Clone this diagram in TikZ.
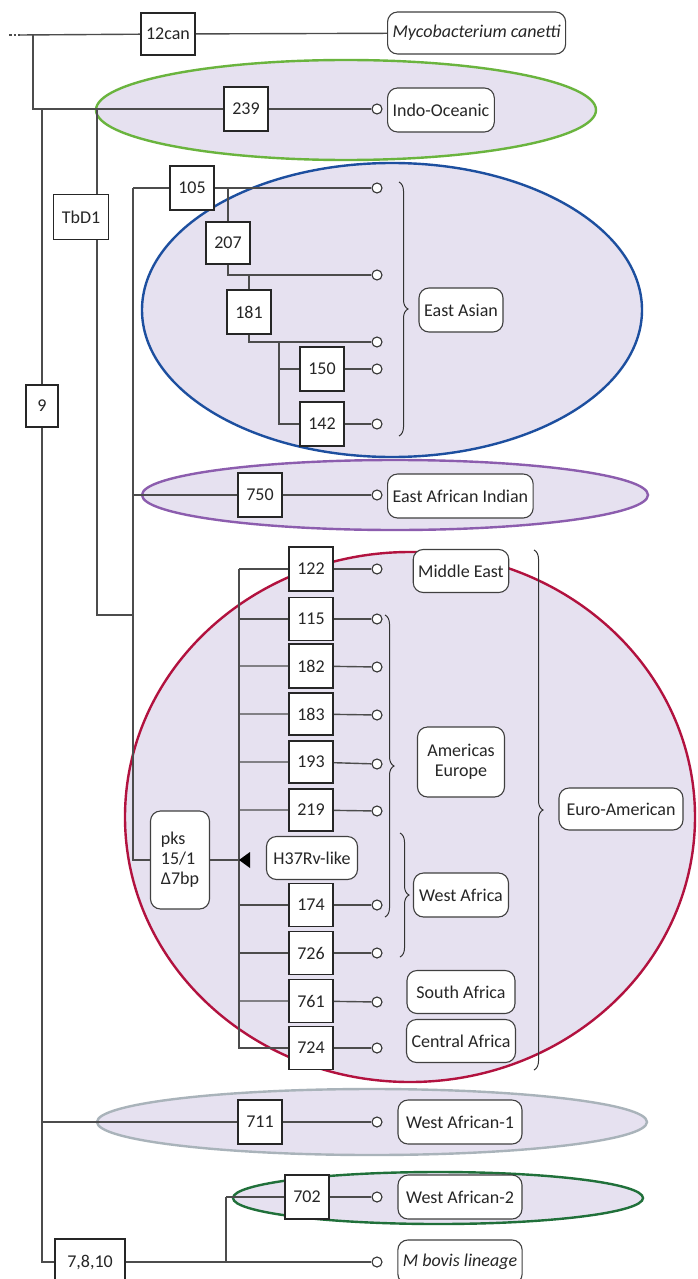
\documentclass[tikz,border=0pt]{standalone}
\usepackage{fontspec}
\setmainfont{Carlito}
\usetikzlibrary{decorations.pathreplacing}
\definecolor{lav}{HTML}{E6E1F0}
\definecolor{cOcean}{HTML}{6AB43E}
\definecolor{cAsia}{HTML}{1D4F9F}
\definecolor{cIndia}{HTML}{8C5DAE}
\definecolor{cEuro}{HTML}{B2123F}
\definecolor{cWAone}{HTML}{A9B3BA}
\definecolor{cWAtwo}{HTML}{20703A}

\tikzset{
  mut/.style={draw=black!85, fill=white, line width=1.7pt, minimum width=44pt, minimum height=44pt, inner sep=2pt},
  lin/.style={draw=black!75, fill=white, line width=1.1pt, rounded corners=10pt, minimum height=44pt, inner xsep=5pt, align=center},
  tipc/.style={circle, draw=black!80, fill=white, line width=1.1pt, inner sep=0pt, minimum size=10pt},
  grp/.style={fill=lav, line width=2.4pt},
  brc/.style={decorate, decoration={brace, amplitude=9pt}, line width=1pt, draw=black!80},
  branch/.style={line width=1.4pt, draw=black!70}
}

\begin{document}
\begin{tikzpicture}[x=1pt, y=-1pt, font=\fontsize{18}{20}\selectfont, text=black!85]
  \useasboundingbox[fill=white] (0,0) rectangle (697,1279);

  \draw[grp, draw=cOcean] (346,110) ellipse [x radius=250pt, y radius=50pt];
  \draw[grp, draw=cAsia] (392,310) ellipse [x radius=250pt, y radius=147pt];
  \draw[grp, draw=cIndia] (395,495) ellipse [x radius=253pt, y radius=35pt];
  \draw[grp, draw=cEuro] (410,817) ellipse [x radius=285pt, y radius=265pt];
  \draw[grp, draw=cWAone] (372,1122) ellipse [x radius=275pt, y radius=33pt];
  \draw[grp, draw=cWAtwo] (438,1198) ellipse [x radius=205pt, y radius=26pt];

  \coordinate (root) at (20,35);
  \coordinate (ja) at (33,35);
  \coordinate (jm) at (42,109);
  \coordinate (jt) at (97,109);
  \coordinate (ja5) at (133,188);
  \coordinate (jl) at (133,615);
  \coordinate (j207) at (228,188);
  \coordinate (j181) at (249,275);
  \coordinate (j150) at (279,342);
  \coordinate (je) at (239,569);
  \coordinate (j702) at (226,1197);

  \node[mut, minimum width=54pt, minimum height=42pt] (can) at (168,34) {12can};
  \node[mut] (b239) at (246,109) {239};
  \node[mut, minimum width=55pt, minimum height=45pt] (tbd1) at (81,217) {TbD1};
  \node[mut, minimum width=32pt, minimum height=42pt] (n9) at (42,406) {9};
  \node[mut] (b105) at (192,188) {105};
  \node[mut, minimum height=42pt] (b207) at (228,243) {207};
  \node[mut] (b181) at (249,312) {181};
  \node[mut] (b150) at (322,369) {150};
  \node[mut] (b142) at (322,424) {142};
  \node[mut] (b750) at (260,495) {750};
  \node[mut] (b122) at (311,569) {122};
  \node[mut, minimum height=43pt] (b115) at (311,619) {115};
  \node[mut] (b182) at (311,666) {182};
  \node[mut, minimum height=42pt] (b183) at (311,714) {183};
  \node[mut, minimum height=42pt] (b193) at (311,762) {193};
  \node[mut, minimum height=42pt] (b219) at (311,810) {219};
  \node[mut, minimum height=43pt] (b174) at (311,905) {174};
  \node[mut, minimum height=43pt] (b726) at (311,953) {726};
  \node[mut, minimum height=43pt] (b761) at (311,1001) {761};
  \node[mut, minimum height=43pt] (b724) at (311,1048) {724};
  \node[mut] (b711) at (260,1122) {711};
  \node[mut] (b702) at (307,1197) {702};
  \node[mut, minimum width=70pt, minimum height=46pt] (b7810) at (90,1262) {7,8,10};

  \node[lin, anchor=west, minimum width=168pt, minimum height=42pt] (canetti) at (387,33) {\itshape Mycobacterium canetti};
  \node[lin, anchor=west, minimum width=101pt] (indo) at (387,110) {Indo-Oceanic};
  \node[lin, minimum width=84pt] (asia) at (461,310) {East Asian};
  \node[lin, anchor=west, minimum width=145pt] (india) at (387,496) {East African Indian};
  \node[lin, minimum width=95pt, minimum height=43pt] (mideast) at (461,571) {Middle East};
  \node[lin, minimum width=87pt, minimum height=70pt] (ameu) at (461,762) {Americas\\Europe};
  \node[lin, minimum width=91pt, minimum height=43pt] (h37) at (312,858) {H37Rv-like};
  \node[lin, minimum width=59pt, minimum height=98pt, align=left, inner xsep=6pt] (pks) at (180,860) {pks\\15/1\\Δ7bp};
  \node[lin, minimum width=95pt] (wafr) at (461,895) {West Africa};
  \node[lin, minimum width=108pt, minimum height=43pt] (safr) at (461,992) {South Africa};
  \node[lin, minimum width=108pt, minimum height=43pt] (cafr) at (461,1041) {Central Africa};
  \node[lin, minimum width=124pt, minimum height=42pt] (euro) at (621,809) {Euro-American};
  \node[lin, minimum width=124pt] (wa1) at (460,1122) {West African-1};
  \node[lin, minimum width=124pt] (wa2) at (460,1197) {West African-2};
  \node[lin, minimum width=124pt] (bovis) at (460,1262) {\itshape M bovis lineage};

  \foreach \t/\y in {239/109,105/188,207/275,181/342,150/369,142/424,750/495,122/569,115/619,182/667,183/715,193/764,219/811,174/905,726/953,761/1002,724/1048,711/1122,702/1197,bov/1262}
    \node[tipc] (t\t) at (377,\y) {};

  \draw[branch, dash pattern=on 2.5pt off 2pt] (9,35) -- (root);
  \draw[branch] (root) -- (can) -- (canetti);
  \draw[branch] (ja) |- (b239);
  \draw[branch] (b239) -- (t239);
  \draw[branch] (jm) -- (n9);
  \draw[branch] (n9) |- (b7810);
  \draw[branch] (jt) -- (jt |- tbd1.north);
  \draw[branch] (jt |- tbd1.south) |- (jl);
  \draw[branch] (ja5) |- (pks);
  \draw[branch] (ja5) -- (b105) -- (t105);
  \draw[branch] (j207) -- (b207);
  \draw[branch] (b207) |- (t207);
  \draw[branch] (j181) -- (b181);
  \draw[branch] (b181) |- (t181);
  \draw[branch] (j150) |- (b150) -- (t150);
  \draw[branch] (j150) |- (b142) -- (t142);
  \draw[branch] (ja5 |- b750) -- (b750) -- (t750);
  \draw[branch] (je) -- (b122) -- (t122);
  \draw[branch] (je) |- (b724);
  \foreach \b in {115,182,183,193,219,174,726,761,724}
    \draw[branch] (je |- b\b) -- (b\b) -- (t\b);
  \draw[branch] (pks) -- (je |- pks);
  \fill[black] (je |- pks) -- ++(11,-8) -- ++(0,16) -- cycle;
  \draw[branch] (jm |- b711) -- (b711) -- (t711);
  \draw[branch] (j702) -- (b702) -- (t702);
  \draw[branch] (j702) -- (j702 |- b7810);
  \draw[branch] (b7810) -- (tbov);

  \draw[brc] (399,182) -- (399,436);
  \draw[brc] (385,615) -- (385,917);
  \draw[brc] (400,833) -- (400,957);
  \draw[brc] (534,550) -- (534,1070);
\end{tikzpicture}
\end{document}
